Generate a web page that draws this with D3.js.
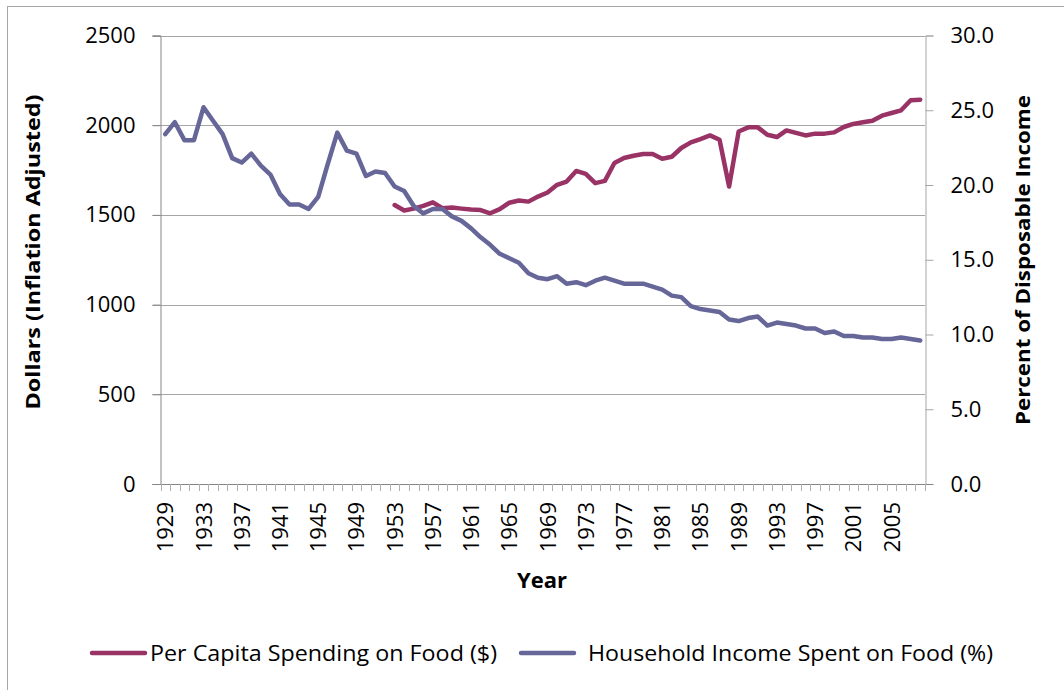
<!DOCTYPE html>
<html>
<head>
<meta charset="utf-8">
<script src="https://cdn.jsdelivr.net/npm/d3@7"></script>
<style>
  body { margin: 0; background: #fff; }
  text { font-family: "Open Sans", sans-serif; fill: #000; }
</style>
</head>
<body>
<svg id="chart" width="1064" height="690"></svg>
<script>
var years = d3.range(1929, 2009);
var yearTicks = [1929, 1933, 1937, 1941, 1945, 1949, 1953, 1957, 1961, 1965, 1969, 1973,
                 1977, 1981, 1985, 1989, 1993, 1997, 2001, 2005];

// Household income spent on food (%), 1929-2008
var percentValues = [
    23.4, 24.2, 23.0, 23.0, 25.2, 24.3, 23.4, 21.8, 21.5, 22.1,
    21.3, 20.7, 19.4, 18.7, 18.7, 18.4, 19.2, 21.4, 23.5, 22.3,
    22.1, 20.6, 20.9, 20.8, 19.9, 19.6, 18.6, 18.1, 18.4, 18.4,
    17.9, 17.6, 17.1, 16.5, 16.0, 15.4, 15.1, 14.8, 14.1, 13.8,
    13.7, 13.9, 13.4, 13.5, 13.3, 13.6, 13.8, 13.6, 13.4, 13.4,
    13.4, 13.2, 13.0, 12.6, 12.5, 11.9, 11.7, 11.6, 11.5, 11.0,
    10.9, 11.1, 11.2, 10.6, 10.8, 10.7, 10.6, 10.4, 10.4, 10.1,
    10.2, 9.9, 9.9, 9.8, 9.8, 9.7, 9.7, 9.8, 9.7, 9.6
];

// Per capita spending on food ($), 1953-2008
var spendingStart = 1953;
var spendingValues = [
    1555, 1525, 1535, 1550, 1570, 1537, 1541, 1535, 1530, 1527,
    1509, 1532, 1568, 1580, 1574, 1602, 1625, 1668, 1686, 1745,
    1729, 1677, 1690, 1789, 1817, 1830, 1839, 1840, 1813, 1824,
    1873, 1904, 1923, 1943, 1919, 1658, 1965, 1988, 1988, 1947,
    1934, 1971, 1957, 1943, 1953, 1953, 1960, 1990, 2007, 2016,
    2025, 2053, 2068, 2083, 2139, 2142
];

var leftTicks = [0, 500, 1000, 1500, 2000, 2500];
var rightTicks = [0, 5, 10, 15, 20, 25, 30];

var seriesNames = ['Per Capita Spending on Food ($)', 'Household Income Spent on Food (%)'];
var seriesColors = ['#993366', '#666699'];

var margin = { top: 35.5, left: 160.5, right: 139, bottom: 206 };
var width = 1064, height = 690;

var svg = d3.select('#chart');

// chart border
svg.append('rect')
    .attr('x', 7.5).attr('y', 6.5)
    .attr('width', 1100).attr('height', 700)
    .attr('fill', 'none').attr('stroke', '#a6a6a6').attr('stroke-width', 1);

var x0 = margin.left, x1 = width - margin.right,
    y0 = height - margin.bottom, y1 = margin.top;

var x = d3.scaleBand().domain(years).range([x0, x1]).padding(0);
var yLeft = d3.scaleLinear().domain([0, 2500]).range([y0, y1]);
var yRight = d3.scaleLinear().domain([0, 30]).range([y0, y1]);

// gridlines
svg.append('g').selectAll('line')
    .data(leftTicks.slice(1))
    .enter().append('line')
    .attr('x1', x0 - 8).attr('x2', x1)
    .attr('y1', function (d) { return Math.round(yLeft(d)) + 0.5; })
    .attr('y2', function (d) { return Math.round(yLeft(d)) + 0.5; })
    .attr('stroke', '#a6a6a6').attr('stroke-width', 1);

// left axis
var leftAxis = d3.axisLeft(yLeft).tickValues(leftTicks).tickSize(8).tickPadding(17)
    .tickFormat(d3.format('d'));
var gl = svg.append('g').attr('transform', 'translate(' + x0 + ',0)').call(leftAxis);
gl.select('.domain').attr('stroke', '#868686');
gl.selectAll('.tick line').attr('stroke', '#868686');
gl.selectAll('.tick text').style('font-size', '22px').style('font-family', '"Open Sans", sans-serif');

// right axis
var rightAxis = d3.axisRight(yRight).tickValues(rightTicks).tickSize(8).tickPadding(17)
    .tickFormat(d3.format('.1f'));
var gr = svg.append('g').attr('transform', 'translate(' + (x1 + 0.5) + ',0)').call(rightAxis);
gr.select('.domain').attr('stroke', '#a6a6a6');
gr.selectAll('.tick line').attr('stroke', '#a6a6a6');
gr.selectAll('.tick text').style('font-size', '22px').style('font-family', '"Open Sans", sans-serif');

// x axis: small ticks at category boundaries
var gx = svg.append('g');
gx.append('line')
    .attr('x1', x0 - 8).attr('x2', x1 + 8)
    .attr('y1', y0 + 0.5).attr('y2', y0 + 0.5)
    .attr('stroke', '#868686');
gx.selectAll('.xt')
    .data(years.concat([2009]))
    .enter().append('line')
    .attr('class', 'xt')
    .attr('x1', function (d) { return Math.round(d === 2009 ? x1 : x(d)) + 0.5; })
    .attr('x2', function (d) { return Math.round(d === 2009 ? x1 : x(d)) + 0.5; })
    .attr('y1', y0).attr('y2', y0 + 7)
    .attr('stroke', '#b0b0b0');
gx.selectAll('.xl')
    .data(yearTicks)
    .enter().append('text')
    .attr('class', 'xl')
    .attr('transform', function (d) {
        return 'translate(' + (x(d) + x.bandwidth() / 2 + 8) + ',' + (y0 + 18) + ') rotate(-90)';
    })
    .attr('text-anchor', 'end')
    .style('font-size', '22px')
    .text(function (d) { return d; });

// lines
var percentLine = d3.line()
    .x(function (d, i) { return x(years[i]) + x.bandwidth() / 2; })
    .y(function (d) { return yRight(d); });

var spendingLine = d3.line()
    .x(function (d, i) { return x(spendingStart + i) + x.bandwidth() / 2; })
    .y(function (d) { return yLeft(d); });

svg.append('path')
    .datum(spendingValues)
    .attr('d', spendingLine)
    .attr('fill', 'none')
    .attr('stroke', seriesColors[0])
    .attr('stroke-width', 4.5)
    .attr('stroke-linejoin', 'round')
    .attr('stroke-linecap', 'round');

svg.append('path')
    .datum(percentValues)
    .attr('d', percentLine)
    .attr('fill', 'none')
    .attr('stroke', seriesColors[1])
    .attr('stroke-width', 4.5)
    .attr('stroke-linejoin', 'round')
    .attr('stroke-linecap', 'round');

// axis titles
svg.append('text')
    .attr('transform', 'translate(40,252) rotate(-90)')
    .attr('text-anchor', 'middle')
    .style('font-size', '20px').style('font-weight', 'bold')
    .attr('textLength', 315).attr('lengthAdjust', 'spacingAndGlyphs')
    .text('Dollars (Inflation Adjusted)');

svg.append('text')
    .attr('transform', 'translate(1030,260) rotate(-90)')
    .attr('text-anchor', 'middle')
    .style('font-size', '20px').style('font-weight', 'bold')
    .attr('textLength', 330).attr('lengthAdjust', 'spacingAndGlyphs')
    .text('Percent of Disposable Income');

svg.append('text')
    .attr('x', 542).attr('y', 588)
    .attr('text-anchor', 'middle')
    .style('font-size', '22px').style('font-weight', 'bold')
    .text('Year');

// legend
var legend = [
    { name: seriesNames[0], color: seriesColors[0], lx: 92, tx: 150, len: 347 },
    { name: seriesNames[1], color: seriesColors[1], lx: 521, tx: 588, len: 405 }
];
var lg = svg.append('g').selectAll('g').data(legend).enter().append('g');
lg.append('line')
    .attr('x1', function (d) { return d.lx; })
    .attr('x2', function (d) { return d.lx + 53; })
    .attr('y1', 653).attr('y2', 653)
    .attr('stroke', function (d) { return d.color; })
    .attr('stroke-width', 4.5)
    .attr('stroke-linecap', 'round');
lg.append('text')
    .attr('x', function (d) { return d.tx; })
    .attr('y', 661)
    .style('font-size', '22px')
    .attr('textLength', function (d) { return d.len; })
    .attr('lengthAdjust', 'spacingAndGlyphs')
    .text(function (d) { return d.name; });
</script>
</body>
</html>
